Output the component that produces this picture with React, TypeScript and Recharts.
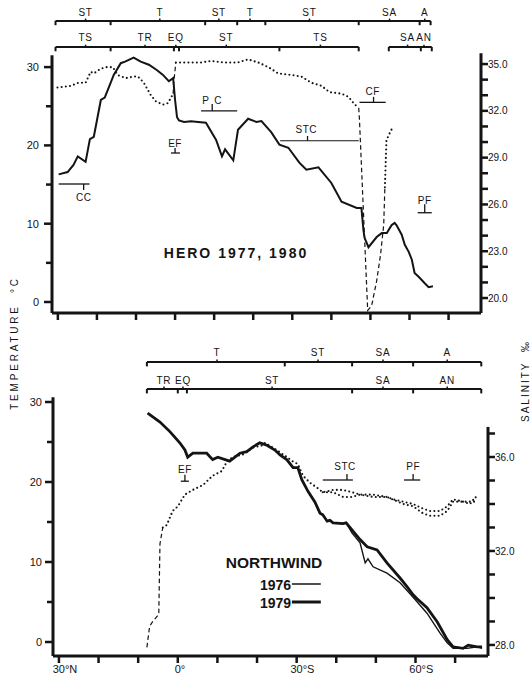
import {
  ComposedChart,
  Line,
  XAxis,
  YAxis,
  ReferenceLine,
  ReferenceDot,
} from 'recharts';

const INK = '#141414';
const FONT = '"Liberation Sans", Arial, sans-serif';

type Pt = [number, number];

// latitude in degrees: north negative, south positive
const LAT_DOMAIN: [number, number] = [-31.5, 78.3];
const latTicks = [-30, -20, -10, 0, 10, 20, 30, 40, 50, 60, 70];
const latLabels: Record<string, [string, string]> = {
  '-30': ['30', '°N'],
  '0': ['0', '°'],
  '30': ['30', '°S'],
  '60': ['60', '°S'],
};

const tempTicks = [0, 5, 10, 15, 20, 25, 30];
const tempLabels = [0, 10, 20, 30];
const heroSalTicks = [20, 21, 22, 23, 24, 25, 26, 27, 28, 29, 30, 31, 32, 33, 34, 35];
const heroSalLabels = [20, 23, 26, 29, 32, 35];
const nwSalTicks = [28, 29, 30, 31, 32, 33, 34, 35, 36, 37];
const nwSalLabels = [28, 32, 36];

// HERO 1977, 1980 — surface temperature (°C)
const heroTemp: Pt[] = [
  [-29.8, 16.3], [-27.5, 16.6], [-26.0, 17.5], [-24.9, 18.6], [-22.9, 17.9], [-21.8, 20.8],
  [-20.8, 21.1], [-19.0, 25.8], [-18.0, 26.1], [-16.5, 28.0], [-15.7, 29.0], [-13.9, 30.5],
  [-12.8, 30.7], [-10.6, 31.2], [-8.8, 30.7], [-6.7, 30.3], [-4.6, 29.6], [-3.1, 29.0],
  [-1.6, 28.2], [-0.5, 28.6], [-0.3, 27.5], [0.0, 25.8], [0.5, 23.6], [1.0, 23.2], [2.3, 23.0],
  [4.1, 23.1], [5.9, 23.0], [7.9, 22.9], [10.5, 20.7], [12.0, 18.6], [12.8, 19.5], [14.9, 18.1],
  [16.1, 22.0], [18.7, 23.4], [20.8, 23.0], [22.1, 23.1], [24.6, 21.7], [26.7, 20.1], [29.0, 19.7],
  [31.8, 17.8], [33.6, 16.9], [36.7, 17.2], [40.0, 15.2], [42.6, 12.8], [46.5, 12.0], [47.7, 12.0],
  [48.2, 9.2], [48.5, 8.2], [49.5, 7.0], [51.6, 8.3], [52.9, 8.8], [54.2, 8.8], [55.4, 9.8],
  [56.2, 10.1], [56.7, 9.8], [58.0, 8.6], [58.8, 7.3], [59.8, 6.4], [60.6, 5.4], [61.3, 3.7],
  [62.4, 3.2], [63.9, 2.4], [64.9, 1.9], [66.0, 2.0],
];

// HERO salinity (‰): dotted where sampled, dashed across the gaps
const heroSalDotA: Pt[] = [
  [-30.1, 33.5], [-26.7, 33.6], [-24.7, 33.8], [-22.9, 33.8], [-21.6, 34.5], [-20.8, 34.4],
  [-19.0, 34.7], [-17.7, 34.8], [-15.9, 34.8], [-14.7, 34.3], [-12.6, 34.1], [-10.6, 34.2],
  [-9.5, 34.2], [-8.0, 33.8], [-6.2, 33.0], [-4.9, 32.6], [-3.1, 32.4], [-1.8, 32.5], [-0.5, 33.1],
];
const heroSalDashA: Pt[] = [[-0.5, 33.1], [-0.3, 33.9], [0.2, 35.1]];
const heroSalDotB: Pt[] = [
  [0.2, 35.1], [2.3, 35.1], [6.7, 35.1], [9.2, 35.2], [12.6, 35.1], [16.1, 35.1], [18.7, 35.3],
  [21.3, 35.1], [23.9, 34.8], [26.4, 34.4], [29.8, 34.3], [32.3, 34.2], [34.9, 33.8], [37.5, 33.6],
  [39.5, 33.2], [42.6, 33.1], [44.4, 32.9], [46.0, 32.4], [47.0, 32.2],
];
const heroSalDashB: Pt[] = [
  [47.0, 32.2], [47.2, 31.4], [49.3, 19.2], [50.3, 19.5], [51.6, 21.1], [52.6, 22.8], [53.4, 24.7], [53.7, 27.1],
];
const heroSalDotC: Pt[] = [[53.7, 27.1], [54.1, 30.1], [54.6, 30.4], [55.4, 30.8]];

// NORTHWIND 1976, 1979 — temperature (°C)
const nwTempShared: Pt[] = [
  [-7.6, 28.6], [-4.5, 27.5], [-2.0, 26.3], [0.5, 24.9], [1.8, 24.0], [2.5, 23.1], [3.8, 23.6],
  [7.3, 23.6], [8.8, 22.8], [10.1, 23.1], [13.1, 22.6], [15.7, 23.6], [17.4, 23.8], [19.0, 24.4],
  [20.7, 24.9], [22.5, 24.6], [24.5, 24.0], [25.8, 23.4], [27.5, 22.8], [29.1, 21.8], [30.3, 21.8],
  [31.3, 20.3], [32.9, 18.8], [34.6, 17.5], [35.9, 16.1], [36.6, 15.9], [37.7, 15.1], [38.4, 15.2],
  [39.2, 14.9], [41.7, 14.8], [42.5, 14.9],
];
const nwTemp1976: Pt[] = [
  ...nwTempShared,
  [44.0, 13.6], [46.0, 12.4], [47.3, 9.9], [48.0, 10.4], [49.3, 9.4], [52.8, 8.6], [56.1, 7.4],
  [59.4, 5.6], [62.9, 3.6], [66.2, 1.1], [68.0, -0.1], [69.5, -0.8], [73.0, -0.8], [75.6, -0.6], [76.8, -0.8],
];
const nwTemp1979: Pt[] = [
  ...nwTempShared,
  [43.5, 14.3], [46.0, 12.8], [47.8, 11.9], [50.3, 11.5], [52.8, 9.9], [56.1, 8.0], [57.9, 6.9],
  [59.4, 5.9], [60.4, 5.4], [62.9, 4.3], [65.5, 2.5], [68.0, 0.3], [69.5, -0.6], [72.0, -0.8],
  [73.3, -0.4], [75.6, -0.6], [76.8, -0.6],
];

// NORTHWIND salinity (‰)
const nwSalDash: Pt[] = [[-7.8, 27.9], [-7.1, 28.8], [-6.3, 29.0], [-4.8, 29.3], [-4.5, 32.3], [-3.8, 33.0]];
const nwSalDot1976: Pt[] = [
  [-3.8, 33.0], [-2.8, 33.1], [-1.3, 33.7], [0.0, 33.9], [1.8, 34.4], [3.8, 34.6], [6.3, 34.8],
  [8.8, 35.2], [11.1, 35.4], [12.4, 35.8], [13.9, 36.0], [16.4, 36.1], [19.0, 36.4], [21.5, 36.5],
  [22.0, 36.6], [24.0, 36.4], [25.8, 36.2], [27.5, 36.0], [29.1, 35.8], [30.3, 35.7], [31.6, 35.2],
  [33.4, 34.9], [35.1, 34.7], [36.6, 34.5], [39.2, 34.6], [41.7, 34.6], [44.0, 34.5], [46.0, 34.4],
  [49.3, 34.4], [52.8, 34.3], [54.3, 34.2], [56.9, 34.1], [59.4, 34.0], [61.9, 33.8], [63.7, 33.7],
  [66.2, 33.7], [68.0, 33.9], [69.5, 34.2], [72.0, 34.1], [73.8, 34.0], [75.1, 34.3], [75.6, 34.2],
];
const nwSalDot1979: Pt[] = [
  [36.6, 34.5], [39.2, 34.5], [41.7, 34.3], [44.0, 34.3], [46.0, 34.4], [49.3, 34.3], [52.8, 34.3],
  [56.9, 34.0], [59.4, 33.9], [61.9, 33.6], [63.7, 33.5], [66.2, 33.5], [68.0, 33.7], [69.5, 34.1],
  [72.0, 34.1], [75.1, 34.1],
];

// water-mass zone bars: boundaries and label latitudes
const heroZoneA = { spans: [[-30.6, 65.4]] as Pt[], bounds: [-30.6, -16.5, 7.7, 15.9, 23.1, 47, 62.6, 65.4],
  labels: [['ST', -22.9], ['T', -3.9], ['ST', 11.2], ['T', 19.2], ['ST', 34.4], ['SA', 54.9], ['A', 63.9]] as [string, number][] };
const heroZoneB = { spans: [[-30.6, 47], [54.7, 65.7]] as Pt[], bounds: [-30.6, -16.5, -0.3, 1.0, 26.7, 47, 54.7, 62.9, 65.7],
  labels: [['TS', -22.9], ['TR', -7.7], ['EQ', 0.2], ['ST', 13.1], ['TS', 37.2], ['SA', 59.5], ['AN', 63.7]] as [string, number][] };
const nwZoneA = { spans: [[-7.8, 76.6]] as Pt[], bounds: [-7.8, 27, 44, 59.4, 76.6],
  labels: [['T', 9.9], ['ST', 35.4], ['SA', 51.8], ['A', 68]] as [string, number][] };
const nwZoneB = { spans: [[-7.8, 76.6]] as Pt[], bounds: [-7.8, 0, 2.3, 44, 59.4, 76.6],
  labels: [['TR', -3.5], ['EQ', 1.3], ['ST', 23.8], ['SA', 51.8], ['AN', 68]] as [string, number][] };

const rows = (pts: Pt[]) => pts.map(([lat, v]) => ({ lat, v }));

function leftTick(labeled: number[], gap: number) {
  return (p: any) => {
    const v = p.payload.value;
    const major = labeled.includes(v);
    return (
      <g>
        <line x1={p.x} x2={p.x - (major ? 8 : 6)} y1={p.y} y2={p.y} stroke={INK} strokeWidth={2.5} />
        {major && (
          <text x={p.x - gap} y={p.y} dy="0.36em" textAnchor="end" fontSize={11} fontFamily={FONT} fill={INK}>
            {v}
          </text>
        )}
      </g>
    );
  };
}

function rightTick(labeled: number[]) {
  return (p: any) => {
    const v = p.payload.value;
    const major = labeled.includes(v);
    return (
      <g>
        <line x1={p.x} x2={p.x + 7} y1={p.y} y2={p.y} stroke={INK} strokeWidth={2.5} />
        {major && (
          <text x={p.x + 7} y={p.y} dy="0.36em" textAnchor="start" fontSize={10} fontFamily={FONT} fill={INK}>
            {v.toFixed(1)}
          </text>
        )}
      </g>
    );
  };
}

// the number sits over the tick, the degree sign and hemisphere hang to the right
function latTick(showLabels: boolean) {
  return (p: any) => {
    const v = p.payload.value;
    const lab = showLabels ? latLabels[String(v)] : undefined;
    return (
      <g>
        <line x1={p.x} x2={p.x} y1={p.y} y2={p.y + 7} stroke={INK} strokeWidth={2.5} />
        {lab && (
          <text
            x={p.x - lab[0].length * 3.1}
            y={p.y + 13}
            dy="0.36em"
            textAnchor="start"
            fontSize={11}
            fontFamily={FONT}
            fill={INK}
          >
            {lab[0] + lab[1]}
          </text>
        )}
      </g>
    );
  };
}

type NoteOpts = { size?: number; bold?: boolean; anchor?: string; spacing?: number };

function note(key: string, x: number, y: number, text: string, o: NoteOpts = {}) {
  return (
    <ReferenceDot
      key={key}
      yAxisId="t"
      x={x}
      y={y}
      r={0}
      fill="none"
      stroke="none"
      ifOverflow="visible"
      label={(p: any) => {
        const vb = p.viewBox ?? {};
        return (
          <text
            x={vb.x + (vb.width ?? 0) / 2}
            y={vb.y + (vb.height ?? 0) / 2}
            dy="0.36em"
            textAnchor={o.anchor ?? 'middle'}
            fontSize={o.size ?? 10}
            fontWeight={o.bold ? 700 : 400}
            letterSpacing={o.spacing ?? 0.5}
            fontFamily={FONT}
            fill={INK}
          >
            {text}
          </text>
        );
      }}
    />
  );
}

function seg(key: string, a: Pt, b: Pt, width = 1.3, axis = 't') {
  return (
    <ReferenceLine
      key={key}
      yAxisId={axis}
      segment={[{ x: a[0], y: a[1] }, { x: b[0], y: b[1] }]}
      stroke={INK}
      strokeWidth={width}
      ifOverflow="visible"
    />
  );
}

type Zone = { spans: Pt[]; bounds: number[]; labels: [string, number][] };

function zoneRow(key: string, z: Zone, level: number, textLevel: number) {
  return [
    ...z.spans.map(([a, b], i) => seg(`${key}s${i}`, [a, level], [b, level], 2)),
    ...z.bounds.map((b, i) => seg(`${key}b${i}`, [b, level], [b, level - 0.55], 2)),
    ...z.labels.map(([, x], i) => seg(`${key}u${i}`, [x, level], [x, level + 0.3], 1.5)),
    ...z.labels.map(([t, x], i) => note(`${key}l${i}`, x, textLevel, t, { size: 10, spacing: 0.8 })),
  ];
}

const dotted = { strokeDasharray: '0 4.2', strokeLinecap: 'round' as const, strokeWidth: 2.1 };
const dashed = { strokeDasharray: '4.5 3', strokeWidth: 1.2 };

function HeroPanel() {
  return (
    <ComposedChart width={531} height={330} margin={{ top: 4, right: 5, bottom: 0, left: 12 }}>
      <XAxis
        type="number"
        dataKey="lat"
        domain={LAT_DOMAIN}
        allowDataOverflow
        ticks={latTicks}
        interval={0}
        height={17}
        tickSize={0}
        tickMargin={0}
        tickLine={false}
        axisLine={{ stroke: INK, strokeWidth: 3 }}
        tick={latTick(false)}
      />
      <YAxis
        yAxisId="t"
        type="number"
        domain={[-1.405, 38.06]}
        allowDataOverflow
        ticks={tempTicks}
        interval={0}
        width={40}
        tickSize={0}
        tickMargin={0}
        tickLine={false}
        axisLine={false}
        tick={leftTick(tempLabels, 13)}
      />
      <YAxis
        yAxisId="s"
        orientation="right"
        type="number"
        domain={[19.04, 38.85]}
        allowDataOverflow
        ticks={heroSalTicks}
        interval={0}
        width={45}
        tickSize={0}
        tickMargin={0}
        tickLine={false}
        axisLine={false}
        tick={rightTick(heroSalLabels)}
      />

      {seg('axL', [LAT_DOMAIN[0], -1.405], [LAT_DOMAIN[0], 31.5], 3)}
      {seg('axR', [LAT_DOMAIN[1], 19.04], [LAT_DOMAIN[1], 35.7], 3, 's')}

      {zoneRow('za', heroZoneA, 35.9, 37.0)}
      {zoneRow('zb', heroZoneB, 32.57, 33.75)}

      <Line yAxisId="s" data={rows(heroSalDotA)} dataKey="v" stroke={INK} {...dotted} dot={false} isAnimationActive={false} />
      <Line yAxisId="s" data={rows(heroSalDashA)} dataKey="v" stroke={INK} {...dashed} dot={false} isAnimationActive={false} />
      <Line yAxisId="s" data={rows(heroSalDotB)} dataKey="v" stroke={INK} {...dotted} dot={false} isAnimationActive={false} />
      <Line yAxisId="s" data={rows(heroSalDashB)} dataKey="v" stroke={INK} {...dashed} dot={false} isAnimationActive={false} />
      <Line yAxisId="s" data={rows(heroSalDotC)} dataKey="v" stroke={INK} {...dotted} dot={false} isAnimationActive={false} />
      <Line yAxisId="t" data={rows(heroTemp)} dataKey="v" stroke={INK} strokeWidth={2} dot={false} isAnimationActive={false} />

      {seg('cc1', [-29.8, 15.07], [-21.9, 15.07])}
      {seg('cc2', [-23.4, 15.07], [-23.4, 14.3])}
      {note('ccl', -23.4, 13.4, 'CC')}
      {seg('ef1', [0, 19.67], [0, 19.03])}
      {seg('ef2', [-1.05, 19.03], [1.25, 19.03])}
      {note('efl', 0, 20.2, 'EF')}
      {seg('pc1', [6.65, 24.4], [15.9, 24.4])}
      {seg('pc2', [9.5, 24.4], [9.5, 25.3])}
      {note('pcl1', 7.9, 25.8, 'P')}
      {note('pcl2', 11.0, 25.8, 'C')}
      {seg('stc1', [26.9, 20.6], [47.0, 20.6], 1.1)}
      {seg('stc2', [33.9, 20.6], [33.9, 21.2])}
      {note('stcl', 33.6, 22.0, 'STC')}
      {seg('cf1', [47.2, 25.5], [53.9, 25.5])}
      {seg('cf2', [50.8, 25.5], [50.8, 26.2])}
      {note('cfl', 50.6, 26.9, 'CF')}
      {seg('pf1', [63.9, 12.5], [63.9, 11.4])}
      {seg('pf2', [62.1, 11.4], [65.7, 11.4])}
      {note('pfl', 63.9, 13.0, 'PF')}
      {note('title', 15.6, 6.26, 'HERO 1977, 1980', { size: 14, bold: true, spacing: 2 })}
    </ComposedChart>
  );
}

function NorthwindPanel() {
  return (
    <ComposedChart width={531} height={345} margin={{ top: 5, right: 3, bottom: 0, left: 13 }}>
      <XAxis
        type="number"
        dataKey="lat"
        domain={LAT_DOMAIN}
        allowDataOverflow
        ticks={latTicks}
        interval={0}
        height={24}
        tickSize={0}
        tickMargin={0}
        tickLine={false}
        axisLine={{ stroke: INK, strokeWidth: 3 }}
        tick={latTick(true)}
      />
      <YAxis
        yAxisId="t"
        type="number"
        domain={[-1.75, 37.75]}
        allowDataOverflow
        ticks={tempTicks}
        interval={0}
        width={40}
        tickSize={0}
        tickMargin={0}
        tickLine={false}
        axisLine={false}
        tick={leftTick(tempLabels, 11)}
      />
      <YAxis
        yAxisId="s"
        orientation="right"
        type="number"
        domain={[27.53, 40.98]}
        allowDataOverflow
        ticks={nwSalTicks}
        interval={0}
        width={40}
        tickSize={0}
        tickMargin={0}
        tickLine={false}
        axisLine={false}
        tick={rightTick(nwSalLabels)}
      />

      {seg('axL', [LAT_DOMAIN[0], -1.75], [LAT_DOMAIN[0], 30.6], 3)}
      {seg('axR', [LAT_DOMAIN[1], 27.53], [LAT_DOMAIN[1], 37.28], 3, 's')}

      {zoneRow('za', nwZoneA, 35.0, 36.25)}
      {zoneRow('zb', nwZoneB, 31.625, 32.75)}

      <Line yAxisId="s" data={rows(nwSalDash)} dataKey="v" stroke={INK} {...dashed} dot={false} isAnimationActive={false} />
      <Line yAxisId="s" data={rows(nwSalDot1976)} dataKey="v" stroke={INK} {...dotted} dot={false} isAnimationActive={false} />
      <Line yAxisId="s" data={rows(nwSalDot1979)} dataKey="v" stroke={INK} {...dotted} dot={false} isAnimationActive={false} />
      <Line yAxisId="t" data={rows(nwTemp1976)} dataKey="v" stroke={INK} strokeWidth={1.4} dot={false} isAnimationActive={false} />
      <Line yAxisId="t" data={rows(nwTemp1979)} dataKey="v" stroke={INK} strokeWidth={2.8} dot={false} isAnimationActive={false} />

      {seg('ef1', [1.8, 20.9], [1.8, 20.1])}
      {seg('ef2', [0.76, 20.1], [2.8, 20.1])}
      {note('efl', 1.8, 21.6, 'EF')}
      {seg('stc1', [36.6, 20.25], [44.2, 20.25])}
      {seg('stc2', [42.7, 20.25], [42.7, 21.0])}
      {note('stcl', 42.2, 21.9, 'STC')}
      {seg('pf1', [57.1, 20.25], [61.2, 20.25])}
      {seg('pf2', [59.4, 20.25], [59.4, 21.0])}
      {note('pfl', 59.4, 22.0, 'PF')}
      {note('title', 24.3, 9.9, 'NORTHWIND', { size: 15.5, bold: true, spacing: 0 })}
      {note('l76', 28.6, 7.1, '1976', { size: 14, bold: true, anchor: 'end', spacing: 0 })}
      {seg('l76s', [28.8, 7.25], [36.1, 7.25], 1.5)}
      {note('l79', 28.6, 4.9, '1979', { size: 14, bold: true, anchor: 'end', spacing: 0 })}
      {seg('l79s', [28.8, 5.0], [36.1, 5.0], 3)}
    </ComposedChart>
  );
}

const axisTitle = (left: number, top: number, spacing: number): React.CSSProperties => ({
  position: 'absolute',
  left,
  top,
  transform: 'translate(-50%, -50%) rotate(-90deg)',
  whiteSpace: 'nowrap',
  fontFamily: FONT,
  fontSize: 10,
  letterSpacing: spacing,
  color: INK,
});

export default function App() {
  return (
    <div style={{ position: 'absolute', left: 0, top: 0, width: 531, height: 680, background: '#fff', overflow: 'hidden' }}>
      <div style={{ position: 'absolute', left: 0, top: 0 }}>
        <HeroPanel />
      </div>
      <div style={{ position: 'absolute', left: 0, top: 335 }}>
        <NorthwindPanel />
      </div>
      <div style={axisTitle(14, 343, 2.8)}>TEMPERATURE&nbsp;&nbsp;°C</div>
      <div style={axisTitle(525, 381, 2)}>SALINITY&nbsp;&nbsp;‰</div>
    </div>
  );
}
